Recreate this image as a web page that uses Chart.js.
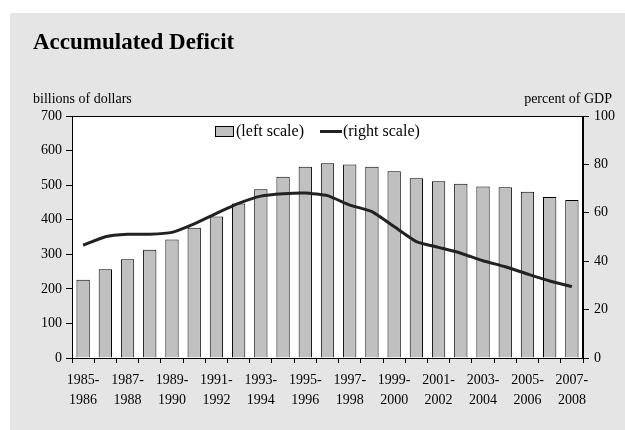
<!DOCTYPE html>
<html>
<head>
<meta charset="utf-8">
<script src="https://cdn.jsdelivr.net/npm/chart.js@4/dist/chart.umd.min.js"></script>
<style>
  html, body { margin: 0; padding: 0; background: #fff; }
  #wrap { position: relative; width: 625px; height: 430px; overflow: hidden; }
  #panel { position: absolute; left: 10px; top: 13px; right: 0; bottom: 0; background: #e5e5e5; }
  #chart { position: absolute; left: 0; top: 0; }
  .txt { position: absolute; font-family: 'Liberation Serif', 'Times New Roman', serif; color: #000; white-space: nowrap; }
  #title { left: 33px; top: 29px; font-size: 23px; font-weight: bold; }
  #yl { left: 33px; top: 91px; font-size: 14px; }
  #yr { right: 13px; top: 91px; font-size: 14px; }
  #legend { left: 215px; top: 122px; font-size: 16px; display: flex; align-items: center; }
  #legend .item { display: flex; align-items: center; margin-right: 16px; }
  #legend .box { width: 17px; height: 9px; border: 1px solid #000; background: #c0c0c0; margin-right: 2px; }
  #legend .line { width: 22px; height: 3px; background: #222; margin-right: 1px; }
</style>
</head>
<body>
<div id="wrap">
  <div id="panel"></div>
  <canvas id="chart" width="625" height="430"></canvas>
  <div class="txt" id="title">Accumulated Deficit</div>
  <div class="txt" id="yl">billions of dollars</div>
  <div class="txt" id="yr">percent of GDP</div>
  <div class="txt" id="legend"></div>
</div>
<script>
// fiscal years, 1985-1986 .. 2007-2008
const years = [
  ['1985-', '1986'], ['1986-', '1987'], ['1987-', '1988'], ['1988-', '1989'],
  ['1989-', '1990'], ['1990-', '1991'], ['1991-', '1992'], ['1992-', '1993'],
  ['1993-', '1994'], ['1994-', '1995'], ['1995-', '1996'], ['1996-', '1997'],
  ['1997-', '1998'], ['1998-', '1999'], ['1999-', '2000'], ['2000-', '2001'],
  ['2001-', '2002'], ['2002-', '2003'], ['2003-', '2004'], ['2004-', '2005'],
  ['2005-', '2006'], ['2006-', '2007'], ['2007-', '2008'],
];

// billions of dollars (left scale)
const deficitDollars = [226, 257, 286, 313, 343, 377, 409, 447, 488, 524, 553, 563,
  560, 553, 540, 520, 511, 504, 496, 494, 481, 466, 457];

// percent of GDP (right scale)
const deficitPctGdp = [46.6, 50.1, 51.1, 51.1, 51.9, 55.4, 59.8, 63.9, 66.9, 67.9, 68.2, 67.1,
  63.2, 60.5, 54.3, 48.1, 45.7, 43.3, 40.2, 37.7, 34.7, 31.8, 29.5];

const leftTicks = [0, 100, 200, 300, 400, 500, 600, 700];
const rightTicks = [0, 20, 40, 60, 80, 100];

const seriesNames = ['(left scale)', '(right scale)'];

const SERIF = "'Liberation Serif', 'Times New Roman', serif";

// white plot area + frame
const plotFrame = {
  id: 'plotFrame',
  beforeDatasetsDraw(chart) {
    const { ctx, chartArea: a } = chart;
    ctx.save();
    ctx.fillStyle = '#ffffff';
    ctx.fillRect(a.left, a.top, a.right - a.left, a.bottom - a.top);
    ctx.restore();
  },
  afterDraw(chart) {
    const { ctx, chartArea: a } = chart;
    ctx.save();
    ctx.strokeStyle = '#000';
    ctx.lineWidth = 1;
    ctx.strokeRect(a.left + 0.5, a.top + 0.5, a.right - a.left - 1, a.bottom - a.top);
    ctx.restore();
  },
};

const chart = new Chart(document.getElementById('chart'), {
  type: 'bar',
  data: {
    labels: years,
    datasets: [
      {
        type: 'bar',
        label: seriesNames[0],
        data: deficitDollars,
        yAxisID: 'y',
        backgroundColor: '#c0c0c0',
        borderColor: '#000',
        borderWidth: 1,
        barPercentage: 0.6,
        categoryPercentage: 1,
        order: 1,
      },
      {
        type: 'line',
        label: seriesNames[1],
        data: deficitPctGdp,
        yAxisID: 'y1',
        borderColor: '#222',
        backgroundColor: '#222',
        borderWidth: 3,
        pointRadius: 0,
        tension: 0.15,
        order: 0,
      },
    ],
  },
  options: {
    responsive: false,
    animation: false,
    layout: { padding: { left: 10, right: 0, top: 116, bottom: 12 } },
    plugins: {
      tooltip: { enabled: false },
      legend: { display: false },
    },
    scales: {
      x: {
        offset: true,
        grid: { offset: true, drawOnChartArea: false, drawTicks: true, tickLength: 5, color: '#000' },
        border: { color: '#000', width: 1 },
        ticks: {
          autoSkip: false,
          maxRotation: 0,
          padding: 8,
          color: '#000',
          font: { family: SERIF, size: 14, lineHeight: 1.4 },
          callback: function (v, i) { return i % 2 === 0 ? this.getLabelForValue(v) : ''; },
        },
        afterFit: (s) => { s.height = 60; },
      },
      y: {
        position: 'left',
        min: 0, max: 700,
        afterBuildTicks: (s) => { s.ticks = leftTicks.map((v) => ({ value: v })); },
        grid: { drawOnChartArea: false, tickLength: 6, color: '#000' },
        border: { color: '#000', width: 1 },
        ticks: { padding: 4, color: '#000', font: { family: SERIF, size: 14 } },
        afterFit: (s) => { s.width = 62; },
      },
      y1: {
        position: 'right',
        min: 0, max: 100,
        afterBuildTicks: (s) => { s.ticks = rightTicks.map((v) => ({ value: v })); },
        grid: { drawOnChartArea: false, tickLength: 6, color: '#000' },
        border: { color: '#000', width: 1 },
        ticks: { padding: 5, color: '#000', font: { family: SERIF, size: 14 } },
        afterFit: (s) => { s.width = 42; },
      },
    },
  },
  plugins: [plotFrame],
});

// html legend from the dataset labels
const legend = document.getElementById('legend');
chart.data.datasets.forEach((ds) => {
  const item = document.createElement('span');
  item.className = 'item';
  const sw = document.createElement('span');
  sw.className = ds.type === 'line' ? 'line' : 'box';
  item.appendChild(sw);
  item.appendChild(document.createTextNode(ds.label));
  legend.appendChild(item);
});
</script>
</body>
</html>
